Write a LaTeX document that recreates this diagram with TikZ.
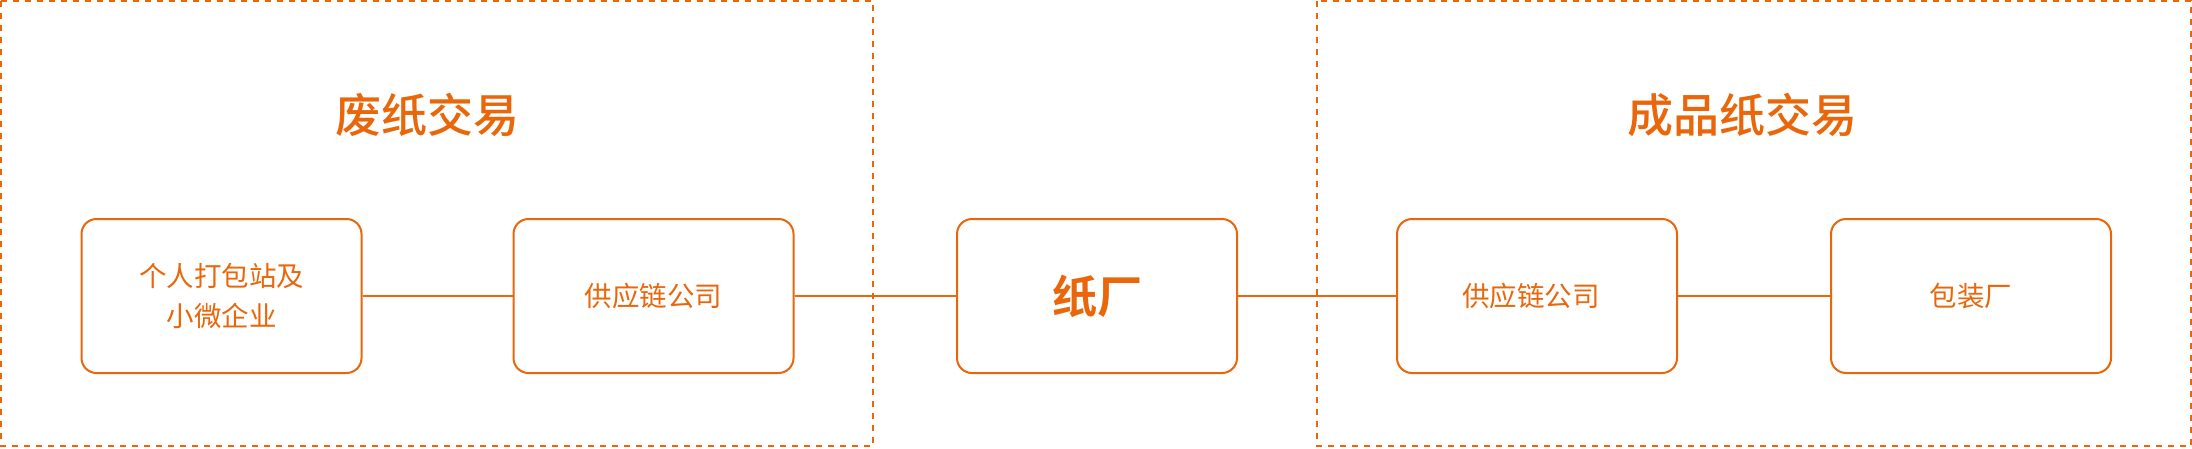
\documentclass[tikz,border=0pt]{standalone}
\usepackage{fontspec}
\setmainfont{Noto Sans CJK SC}
\newfontfamily\cjkb{Noto Sans CJK SC Medium}
\newfontfamily\cjkbb{Noto Sans CJK SC Bold}
\definecolor{org}{RGB}{234,102,10}
\begin{document}
\begin{tikzpicture}[x=1pt,y=-1pt,
  grp/.style={draw=org,line width=2pt,dash pattern=on 6pt off 6pt},
  stage/.style={draw=org,line width=2pt,rounded corners=15pt,minimum width=280pt,minimum height=154pt,inner sep=0pt,text=org,font=\fontsize{27.5}{40}\selectfont,align=center},
  bigstage/.style={stage,font=\cjkbb\fontsize{45}{50}\selectfont},
  ttl/.style={text=org,font=\cjkb\fontsize{46}{50}\selectfont,inner sep=0pt},
  link/.style={draw=org,line width=2.5pt}]
\useasboundingbox (0,0) rectangle (2192,448);
\fill[white] (0,0) rectangle (2192,448);
\draw[grp] (1,1) rectangle (873,446);
\draw[grp] (1317,1) rectangle (2191,446);
\node[ttl] (t1) at (427,115) {废纸交易};
\node[ttl] (t2) at (1742,115) {成品纸交易};
\node[stage] (a) at (221.5,296) {个人打包站及\\小微企业};
\node[stage] (b) at (653.5,296) {供应链公司};
\node[bigstage] (c) at (1097,296) {纸厂};
\node[stage] (d) at (1537,296) {\hspace*{-12pt}供应链公司};
\node[stage] (e) at (1971,296) {包装厂};
\draw[link] (a) -- (b);
\draw[link] (b) -- (c);
\draw[link] (c) -- (d);
\draw[link] (d) -- (e);
\end{tikzpicture}
\end{document}
